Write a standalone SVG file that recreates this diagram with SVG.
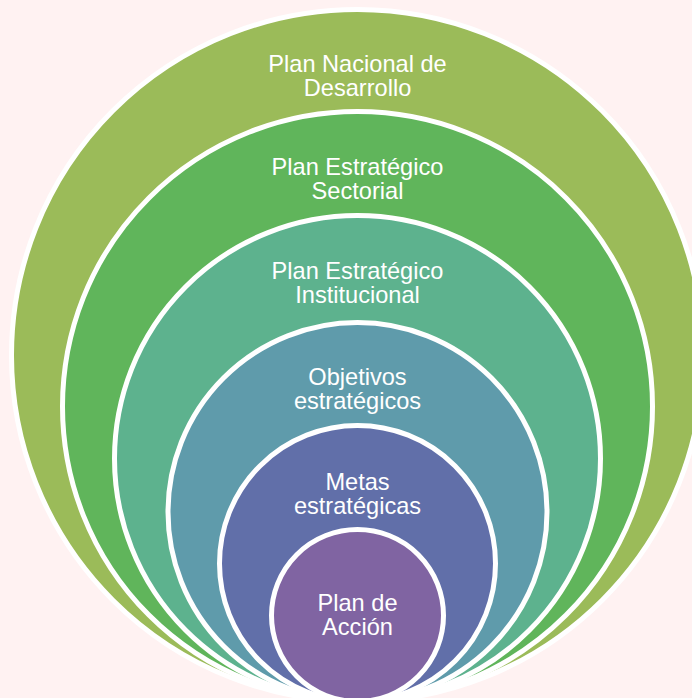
<svg xmlns="http://www.w3.org/2000/svg" width="692" height="698" viewBox="0 0 692 698">
<style>
.ring{stroke:#FFFFFF;stroke-width:5}
.lbl{font-family:"Liberation Sans",Arial,sans-serif;font-size:23.6px;fill:#FFFFFF;text-anchor:middle}
</style>
<rect x="0" y="0" width="692" height="698" fill="#FFF2F2"/>
<g id="plan-nacional">
<circle class="ring" cx="357.5" cy="355.5" r="346" fill="#9BBB59"/>
<text class="lbl" x="357.5" y="72">Plan Nacional de</text>
<text class="lbl" x="357.5" y="96">Desarrollo</text>
</g>
<g id="plan-sectorial">
<circle class="ring" cx="357.5" cy="406.5" r="295" fill="#60B55B"/>
<text class="lbl" x="357.5" y="175">Plan Estratégico</text>
<text class="lbl" x="357.5" y="199">Sectorial</text>
</g>
<g id="plan-institucional">
<circle class="ring" cx="357.5" cy="458.5" r="243" fill="#5DB28E"/>
<text class="lbl" x="357.5" y="279">Plan Estratégico</text>
<text class="lbl" x="357.5" y="303">Institucional</text>
</g>
<g id="objetivos">
<circle class="ring" cx="357.5" cy="512" r="189.5" fill="#5F9BAB"/>
<text class="lbl" x="357.5" y="385">Objetivos</text>
<text class="lbl" x="357.5" y="409">estratégicos</text>
</g>
<g id="metas">
<circle class="ring" cx="357.5" cy="563.5" r="138" fill="#616FA9"/>
<text class="lbl" x="357.5" y="490">Metas</text>
<text class="lbl" x="357.5" y="514">estratégicas</text>
</g>
<g id="plan-accion">
<circle class="ring" cx="357.5" cy="615.5" r="86" fill="#8064A2"/>
<text class="lbl" x="357.5" y="611">Plan de</text>
<text class="lbl" x="357.5" y="635">Acción</text>
</g>
<g id="connectors"></g>
</svg>
